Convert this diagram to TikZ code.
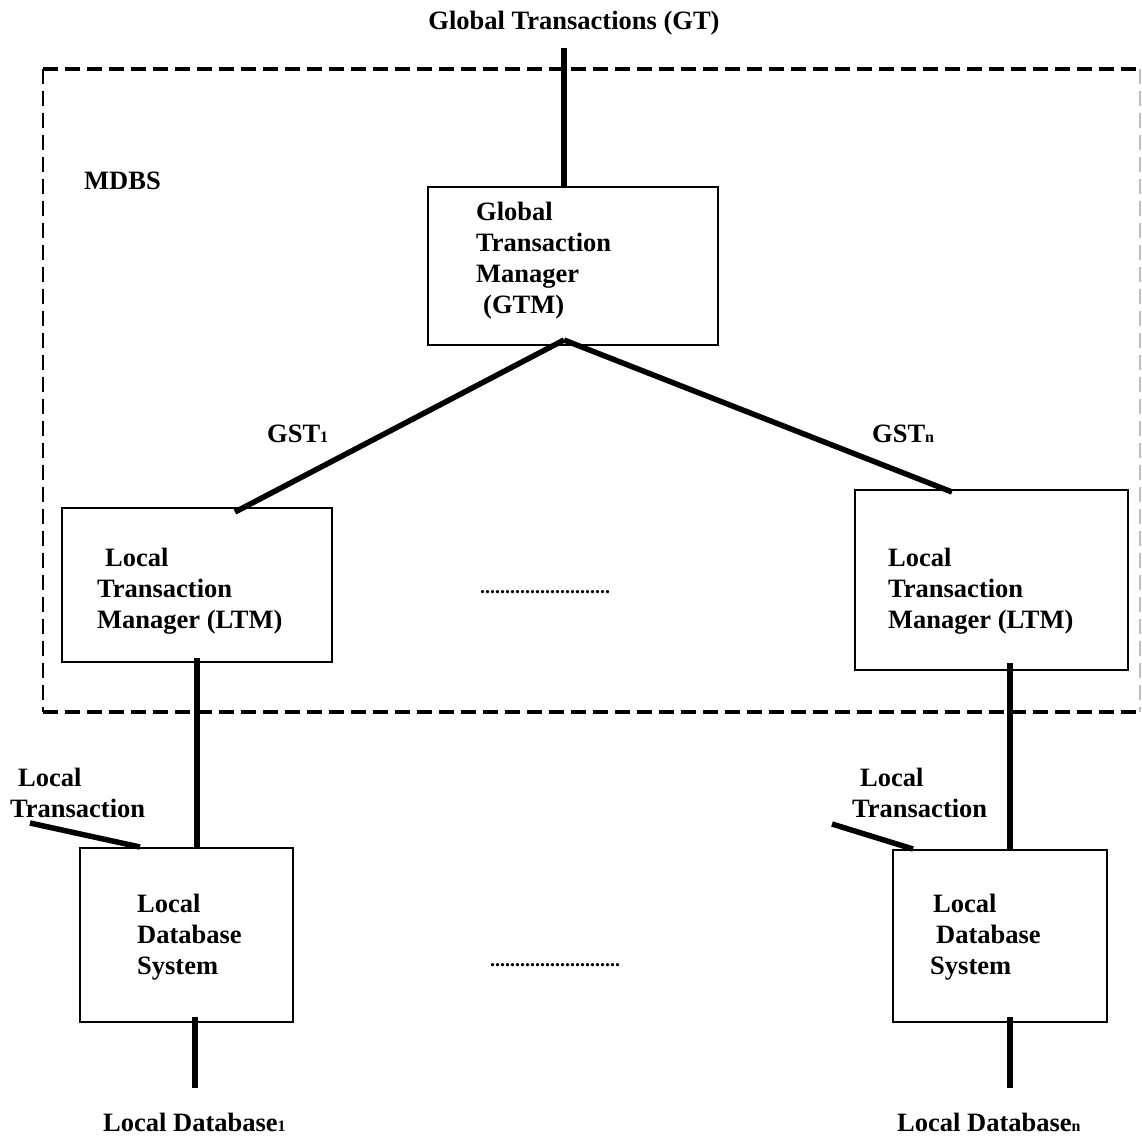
\documentclass[tikz,border=0pt]{standalone}
\usepackage{fontspec}
\setmainfont{Liberation Serif}
\begin{document}
\begin{tikzpicture}[x=1pt,y=-1pt,
  box/.style={draw, line width=2.8pt, inner sep=0pt},
  conn/.style={line width=5.5pt},
  lbl/.style={font=\bfseries\fontsize{26.5}{31}\selectfont, inner sep=0pt, align=left},
  dotsl/.style={font=\bfseries\fontsize{20}{20}\selectfont, inner sep=0pt},
  frame/.style={line width=3.2pt, dash pattern=on 15pt off 7pt},
  frameside/.style={line width=2.2pt, dash pattern=on 15pt off 7pt}
]
\newcommand{\sbs}[1]{{\fontsize{16}{16}\selectfont #1}}
\useasboundingbox (0,0) rectangle (1142,1136);

% MDBS dashed frame
\coordinate (ftl) at (43,69);
\coordinate (ftr) at (1142,69);
\coordinate (fbl) at (43,712);
\coordinate (fbr) at (1142,712);
\draw[frame] (ftl) -- (ftr);
\draw[frame] (fbl) -- (fbr);
\draw[frameside] (ftl) -- (fbl);
\draw[frameside, black!25] ([xshift=-2pt]ftr) -- ([xshift=-2pt]fbr);
\node[lbl, anchor=west] (mdbs) at (84,181) {MDBS};

% Global transactions
\node[lbl] (gt) at (574,23) {Global Transactions (GT)};
\coordinate (gtend) at (564,48);

% boxes
\node[box, minimum width=290pt, minimum height=158pt] (gtm) at (573,266) {};
\node[box, minimum width=270pt, minimum height=154pt] (ltm1) at (197,585) {};
\node[box, minimum width=273pt, minimum height=180pt] (ltmn) at (991.5,580) {};
\node[box, minimum width=213pt, minimum height=174pt] (lds1) at (186.5,935) {};
\node[box, minimum width=214pt, minimum height=172pt] (ldsn) at (1000,936) {};

% box texts
\node[lbl, anchor=north west] (gtmt) at (476,202) {Global\\Transaction\\Manager\\\hspace{7pt}(GTM)};
\node[lbl, anchor=north west] (ltm1t) at (97,548) {\hspace{8pt}Local\\Transaction\\Manager (LTM)};
\node[lbl, anchor=north west] (ltmnt) at (888,548) {Local\\Transaction\\Manager (LTM)};
\node[lbl, anchor=north west] (lds1t) at (137,894) {Local\\Database\\System};
\node[lbl, anchor=north west] (ldsnt) at (930,894) {\hspace{3pt}Local\\\hspace{6pt}Database\\System};

% connector end points
\coordinate (gtmtop) at (564,187);
\coordinate (apex) at (564,340);
\coordinate (ltm1top) at (235,512);
\coordinate (ltmntop) at (952,492);
\coordinate (ltm1bot) at (197,658);
\coordinate (lds1top) at (197,848);
\coordinate (ltmnbot) at (1010,663);
\coordinate (ldsntop) at (1010,850);
\coordinate (lds1bot) at (195,1017);
\coordinate (ldsnbot) at (1010,1017);
\coordinate (ldb1) at (195,1088);
\coordinate (ldbn) at (1010,1088);
\coordinate (lt1a) at (30,823);
\coordinate (lt1b) at (140,847);
\coordinate (ltna) at (832,824);
\coordinate (ltnb) at (913,849);

% connectors
\draw[conn] (gtend) -- (gtmtop);
\draw[conn] (apex) -- (ltm1top);
\draw[conn] (apex) -- (ltmntop);
\draw[conn] (ltm1bot) -- (lds1top);
\draw[conn] (ltmnbot) -- (ldsntop);
\draw[conn] (lds1bot) -- (ldb1);
\draw[conn] (ldsnbot) -- (ldbn);
\draw[conn] (lt1a) -- (lt1b);
\draw[conn] (ltna) -- (ltnb);

% labels
\node[lbl, anchor=west] (gst1) at (267,434) {GST\sbs{1}};
\node[lbl, anchor=west] (gstn) at (872,434) {GST\sbs{n}};
\node[dotsl, anchor=west] (dots1) at (480,592) {..........................};
\node[dotsl, anchor=west] (dots2) at (490,965) {..........................};
\node[lbl, anchor=north west] (ltl) at (10,768) {\hspace{8pt}Local\\Transaction};
\node[lbl, anchor=north west] (ltr) at (852,768) {\hspace{8pt}Local\\Transaction};
\node[lbl, anchor=west] (ldb1t) at (103,1122) {Local Database\sbs{1}};
\node[lbl, anchor=west] (ldbnt) at (897,1122) {Local Database\sbs{n}};
\end{tikzpicture}
\end{document}
